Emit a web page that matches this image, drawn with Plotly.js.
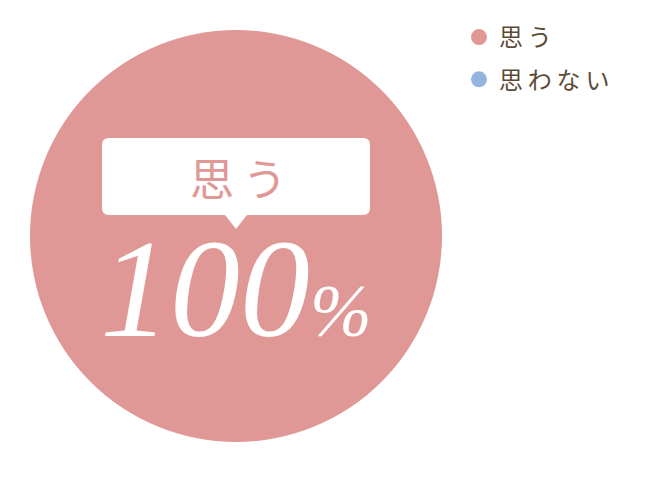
<!DOCTYPE html>
<html>
<head>
<meta charset="utf-8">
<script src="https://cdn.plot.ly/plotly-3.0.1.min.js"></script>
<style>
  html, body { margin: 0; padding: 0; background: #fff; }
  #chart { width: 670px; height: 486px; }
</style>
</head>
<body>
<div id="chart"></div>
<script>
// answer categories and their share
const labels = ["思う", "思わない"];
const values = [100, 0];
const colors = ["#e09896", "#94b4e0"];

const W = 670, H = 486;
// pixel -> paper helpers for the callout
function px(x) { return x / W; }
function py(y) { return 1 - y / H; }

let total = values.reduce((a, b) => a + b, 0);
let pct = Math.round(values[0] / total * 100);

let data = [{
    type: "pie",
    labels: labels,
    values: values,
    sort: false,
    direction: "clockwise",
    marker: {colors: colors, line: {width: 0}},
    textinfo: "none",
    hoverinfo: "none",
    showlegend: false,
    domain: {x: [px(30), px(442)], y: [py(442), py(30)]}
}];

// legend entries with round markers
labels.forEach((lab, i) => {
    data.push({
        type: "scatter",
        mode: "markers",
        x: [null], y: [null],
        name: lab.split("").join("\u2009"),
        legendgroup: "g" + i,
        marker: {color: colors[i], size: 17, symbol: "circle"},
        hoverinfo: "none"
    });
});

// rounded callout box with a pointer
let bx0 = 102, bx1 = 370, by0 = 138, by1 = 215, r = 7;
let path = "M" + px(bx0 + r) + "," + py(by0) +
    " L" + px(bx1 - r) + "," + py(by0) +
    " Q" + px(bx1) + "," + py(by0) + " " + px(bx1) + "," + py(by0 + r) +
    " L" + px(bx1) + "," + py(by1 - r) +
    " Q" + px(bx1) + "," + py(by1) + " " + px(bx1 - r) + "," + py(by1) +
    " L" + px(247) + "," + py(by1) +
    " L" + px(236) + "," + py(229) +
    " L" + px(225) + "," + py(by1) +
    " L" + px(bx0 + r) + "," + py(by1) +
    " Q" + px(bx0) + "," + py(by1) + " " + px(bx0) + "," + py(by1 - r) +
    " L" + px(bx0) + "," + py(by0 + r) +
    " Q" + px(bx0) + "," + py(by0) + " " + px(bx0 + r) + "," + py(by0) + " Z";

let layout = {
    width: W,
    height: H,
    margin: {l: 0, r: 0, t: 0, b: 0, pad: 0},
    paper_bgcolor: "#ffffff",
    plot_bgcolor: "rgba(0,0,0,0)",
    xaxis: {visible: false},
    yaxis: {visible: false},
    showlegend: true,
    legend: {
        x: px(459), y: py(15), xanchor: "left", yanchor: "top",
        font: {family: "Noto Sans CJK JP", size: 24, color: "#5c4a36"},
        tracegroupgap: 8,
        bgcolor: "rgba(0,0,0,0)"
    },
    shapes: [{
        type: "path", xref: "paper", yref: "paper",
        path: path,
        fillcolor: "#ffffff",
        line: {width: 0}
    }],
    annotations: [{
        xref: "paper", yref: "paper",
        x: px(238), y: py(177),
        xanchor: "center", yanchor: "middle",
        text: labels[0].split("").join("\u2009"),
        showarrow: false,
        font: {family: "Noto Sans CJK JP", size: 44, color: colors[0]}
    }, {
        xref: "paper", yref: "paper",
        x: px(236), y: py(288),
        xanchor: "center", yanchor: "middle",
        text: "<i>" + pct + "<span style=\"font-size:74px\">%</span></i>",
        showarrow: false,
        font: {family: "Liberation Serif", size: 140, color: "#ffffff"}
    }]
};

Plotly.newPlot("chart", data, layout, {displayModeBar: false, staticPlot: true});
</script>
</body>
</html>
